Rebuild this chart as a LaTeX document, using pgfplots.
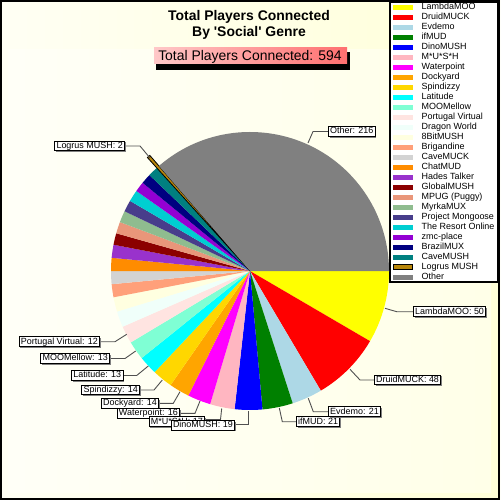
\documentclass[border=0pt]{standalone}
\usepackage{pgfplots}
\pgfplotsset{compat=1.18}
\usepackage{pgfplotstable}
\usepackage{fontspec}
\setmainfont{Liberation Sans}
\usetikzlibrary{shadows}

\definecolor{pYellow}{HTML}{FFFF00}
\definecolor{pRed}{HTML}{FF0000}
\definecolor{pLightBlue}{HTML}{ADD8E6}
\definecolor{pGreen}{HTML}{008000}
\definecolor{pBlue}{HTML}{0000FF}
\definecolor{pPink}{HTML}{FFB6C1}
\definecolor{pMagenta}{HTML}{FF00FF}
\definecolor{pOrange}{HTML}{FFA500}
\definecolor{pGold}{HTML}{FFD700}
\definecolor{pCyan}{HTML}{00FFFF}
\definecolor{pAquamarine}{HTML}{7FFFD4}
\definecolor{pMistyRose}{HTML}{FFE4E1}
\definecolor{pAzure}{HTML}{F0FFFA}
\definecolor{pLightYellow}{HTML}{FFFFE0}
\definecolor{pLightSalmon}{HTML}{FFA07A}
\definecolor{pLightGray}{HTML}{D3D3D3}
\definecolor{pDarkOrange}{HTML}{FF8C00}
\definecolor{pDarkOrchid}{HTML}{9932CC}
\definecolor{pDarkRed}{HTML}{8B0000}
\definecolor{pDarkSalmon}{HTML}{E9967A}
\definecolor{pDarkSeaGreen}{HTML}{8FBC8F}
\definecolor{pDarkSlateBlue}{HTML}{483D8B}
\definecolor{pDarkTurquoise}{HTML}{00CED1}
\definecolor{pDarkViolet}{HTML}{9400D3}
\definecolor{pNavy}{HTML}{000080}
\definecolor{pTeal}{HTML}{008080}
\definecolor{pDarkGoldenrod}{HTML}{B8860B}
\definecolor{pGray}{HTML}{808080}
\definecolor{bgOuterL}{HTML}{FFFFF4}
\definecolor{bgOuterR}{HTML}{FFFFD8}
\definecolor{bgInnerL}{HTML}{FFFFF7}
\definecolor{bgInnerR}{HTML}{FFFFE8}
\definecolor{subL}{HTML}{FFC8C8}
\definecolor{subR}{HTML}{FF7070}
\definecolor{leader}{HTML}{505050}

% players per MUD, clockwise from 3 o'clock
\pgfplotstableread[col sep=comma]{
name,value,col,rad,edge
LambdaMOO,50,pYellow,139,none
DruidMUCK,48,pRed,139,none
Evdemo,21,pLightBlue,139,none
ifMUD,21,pGreen,139,none
DinoMUSH,19,pBlue,139,none
M*U*S*H,17,pPink,139,none
Waterpoint,16,pMagenta,139,none
Dockyard,14,pOrange,139,none
Spindizzy,14,pGold,139,none
Latitude,13,pCyan,139,none
MOOMellow,13,pAquamarine,139,none
Portugal Virtual,12,pMistyRose,139,none
Dragon World,11,pAzure,139,none
8BitMUSH,10,pLightYellow,139,none
Brigandine,9,pLightSalmon,139,none
CaveMUCK,9,pLightGray,139,none
ChatMUD,9,pDarkOrange,139,none
Hades Talker,9,pDarkOrchid,139,none
GlobalMUSH,8,pDarkRed,139,none
MPUG (Puggy),8,pDarkSalmon,139,none
MyrkaMUX,8,pDarkSeaGreen,139,none
Project Mongoose,8,pDarkSlateBlue,139,none
The Resort Online,8,pDarkTurquoise,139,none
zmc-place,7,pDarkViolet,139,none
BrazilMUX,7,pNavy,139,none
CaveMUSH,7,pTeal,139,none
Logrus MUSH,2,pDarkGoldenrod,153,black
Other,216,pGray,139,none
}\piedata

\def\total{594}

\begin{document}
\begin{tikzpicture}[
  lbl/.style={draw=black, fill=white, line width=0.8bp,
    inner xsep=1.8bp, inner ysep=0.6bp, text height=6.6bp, text depth=1.9bp,
    font=\fontsize{9}{9}\selectfont,
    drop shadow={shadow xshift=1.2bp, shadow yshift=-1.2bp, fill=gray, opacity=1}},
  lead/.style={draw=leader, line width=0.9bp}
]
\begin{axis}[
  x=1bp, y=1bp,
  xmin=0, xmax=500, ymin=0, ymax=500,
  y dir=reverse,
  scale only axis, hide axis, clip=false
]
% backgrounds
\shade[left color=bgOuterL, right color=bgOuterR] (axis cs:0,0) rectangle (axis cs:500,500);
\shade[left color=bgInnerL, right color=bgInnerR] (axis cs:8,50) rectangle (axis cs:491,492);
\draw[black, line width=1.6bp] (axis cs:0.8,0.8) rectangle (axis cs:499.2,499.2);

% title
\node[font=\bfseries\fontsize{14}{14}\selectfont] at (axis cs:249,17) {Total Players Connected};
\node[font=\bfseries\fontsize{14}{14}\selectfont] at (axis cs:249,33) {By \textquotesingle Social\textquotesingle{} Genre};
\fill[black] (axis cs:156,52) rectangle (axis cs:349.5,70);
\shade[left color=subL, right color=subR] (axis cs:154,48) rectangle (axis cs:347,64);
\node[font=\fontsize{14}{14}\selectfont] at (axis cs:250,56.5) {Total Players Connected: 594};

% legend frame
\draw[black, fill=white, line width=1.5bp] (axis cs:390,2) rectangle (axis cs:497.5,282);

\pgfplotsextra{%
  \pgfplotstablegetrowsof{\piedata}%
  \pgfmathtruncatemacro\lastrow{\pgfplotsretval-1}%
  \xdef\cum{0}%
  \foreach \i in {0,...,\lastrow} {%
    \pgfplotstablegetelem{\i}{value}\of\piedata \let\sliceval\pgfplotsretval
    \pgfplotstablegetelem{\i}{col}\of\piedata \let\slicecol\pgfplotsretval
    \pgfplotstablegetelem{\i}{rad}\of\piedata \let\slicerad\pgfplotsretval
    \pgfplotstablegetelem{\i}{edge}\of\piedata \let\sliceedge\pgfplotsretval
    \pgfplotstablegetelem{\i}{name}\of\piedata \let\slicename\pgfplotsretval
    \pgfmathsetmacro\angA{-\cum/\total*360}%
    \pgfmathsetmacro\angB{-(\cum+\sliceval)/\total*360}%
    \filldraw[fill=\slicecol, draw=\sliceedge, line width=0.8bp]
      (axis cs:250,271) -- ++(\angA:\slicerad bp)
      arc[start angle=\angA, end angle=\angB, radius=\slicerad bp] -- cycle;
    \pgfmathsetmacro\newcum{\cum+\sliceval}%
    \xdef\cum{\newcum}%
    % legend row
    \pgfmathsetmacro\ly{7.3+10*\i}%
    \pgfmathsetmacro\lyA{\ly-2.5}%
    \pgfmathsetmacro\lyB{\ly+2.5}%
    \filldraw[fill=\slicecol, draw=\sliceedge, line width=0.8bp]
      (axis cs:393,\lyA) rectangle (axis cs:412.5,\lyB);
    \node[anchor=west, inner sep=0pt, text height=6.5bp, text depth=1.9bp,
      font=\fontsize{9}{9}\selectfont] at (axis cs:421.5,\ly) {\slicename};
  }%
}

% slice labels, later ones underneath
\draw[lead] (axis cs:308,143) -- (axis cs:313,131.5) -- (axis cs:328,131.5);
\node[lbl, anchor=west] at (axis cs:328,131.5) {Other: 216};
\draw[lead] (axis cs:150,158) -- (axis cs:140,146) -- (axis cs:125,146);
\node[lbl, anchor=east] at (axis cs:125,146) {Logrus MUSH: 2};
\draw[lead] (axis cs:126.7,334.3) -- (axis cs:115,341.7) -- (axis cs:100,341.7);
\node[lbl, anchor=east] at (axis cs:100,341.7) {Portugal Virtual: 12};
\draw[lead] (axis cs:135.7,351) -- (axis cs:125,358.5) -- (axis cs:110,358.5);
\node[lbl, anchor=east] at (axis cs:110,358.5) {MOOMellow: 13};
\draw[lead] (axis cs:148.3,366) -- (axis cs:136.7,375.5) -- (axis cs:123.3,375.5);
\node[lbl, anchor=east] at (axis cs:123.3,375.5) {Latitude: 13};
\draw[lead] (axis cs:162.3,380) -- (axis cs:154,390) -- (axis cs:140,390);
\node[lbl, anchor=east] at (axis cs:140,390) {Spindizzy: 14};
\draw[lead] (axis cs:180,391.7) -- (axis cs:173.3,403.3) -- (axis cs:159,403.3);
\node[lbl, anchor=east] at (axis cs:159,403.3) {Dockyard: 14};
\draw[lead] (axis cs:200,401) -- (axis cs:195,413.3) -- (axis cs:180,413.3);
\node[lbl, anchor=east] at (axis cs:180,413.3) {Waterpoint: 16};
\draw[lead] (axis cs:221.7,408.5) -- (axis cs:220.5,419.5) -- (axis cs:205,419.5);
\node[lbl, anchor=east] at (axis cs:205,421.7) {M*U*S*H: 17};
\draw[lead] (axis cs:248.3,411) -- (axis cs:248.3,424.3) -- (axis cs:235,424.3);
\node[lbl, anchor=east] at (axis cs:235,425.4) {DinoMUSH: 19};
\draw[lead] (axis cs:279.3,408) -- (axis cs:282.3,421.7) -- (axis cs:296,421.7);
\node[lbl, anchor=west] at (axis cs:296,421.7) {ifMUD: 21};
\draw[lead] (axis cs:308.3,398.3) -- (axis cs:313.3,411.7) -- (axis cs:328,411.7);
\node[lbl, anchor=west] at (axis cs:328,411.7) {Evdemo: 21};
\draw[lead] (axis cs:350,369.3) -- (axis cs:360,380) -- (axis cs:374,380);
\node[lbl, anchor=west] at (axis cs:374,380) {DruidMUCK: 48};
\draw[lead] (axis cs:385,308.3) -- (axis cs:396.7,311.7) -- (axis cs:413,311.7);
\node[lbl, anchor=west] at (axis cs:413,311.7) {LambdaMOO: 50};
\end{axis}
\end{tikzpicture}
\end{document}
